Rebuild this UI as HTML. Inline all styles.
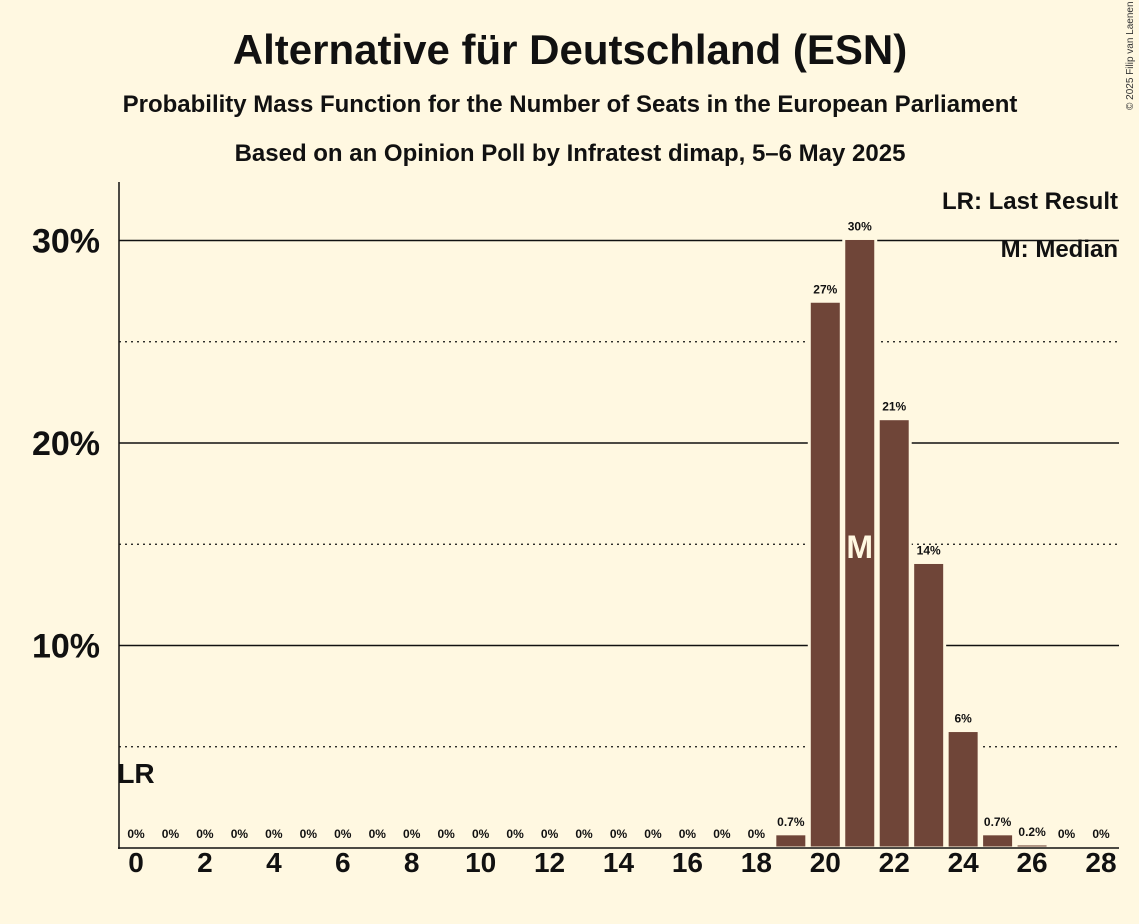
<!DOCTYPE html>
<html><head><meta charset="utf-8"><style>
body{margin:0;background:#FFF8E1;}
svg{display:block;font-family:"Liberation Sans",sans-serif;font-weight:bold;}
</style></head><body>
<svg id="chart" width="1139" height="924" viewBox="0 0 1139 924">
<rect width="1139" height="924" fill="#FFF8E1"/>
<text x="570" y="64" text-anchor="middle" font-size="42" fill="#111">Alternative für Deutschland (ESN)</text>
<text x="570" y="112" text-anchor="middle" font-size="24" fill="#111">Probability Mass Function for the Number of Seats in the European Parliament</text>
<text x="570" y="161" text-anchor="middle" font-size="24" fill="#111">Based on an Opinion Poll by Infratest dimap, 5–6 May 2025</text>
<text x="1133" y="110" font-size="10" font-weight="normal" fill="#333" transform="rotate(-90 1133 110)">© 2025 Filip van Laenen</text>
<g id="grid"></g>
<g id="bars"></g>
<g id="labels"></g>
<line x1="119" y1="182" x2="119" y2="849" stroke="#111" stroke-width="1.5"/>
<line x1="118" y1="848" x2="1119" y2="848" stroke="#111" stroke-width="1.5"/>
<text x="1118" y="209" text-anchor="end" font-size="24" fill="#111">LR: Last Result</text>
<text x="1118" y="257" text-anchor="end" font-size="24" fill="#111">M: Median</text>
</svg>
<script>
const seats=[0,1,2,3,4,5,6,7,8,9,10,11,12,13,14,15,16,17,18,19,20,21,22,23,24,25,26,27,28];
const probs=[0,0,0,0,0,0,0,0,0,0,0,0,0,0,0,0,0,0,0,0.7,27,30.1,21.2,14.1,5.8,0.7,0.2,0,0];
const valueLabels=["0%","0%","0%","0%","0%","0%","0%","0%","0%","0%","0%","0%","0%","0%","0%","0%","0%","0%","0%","0.7%","27%","30%","21%","14%","6%","0.7%","0.2%","0%","0%"];
const yTicks=[10,20,30];
const yMinor=[5,15,25];
const yTickLabels=["10%","20%","30%"];
const xTickSeats=[0,2,4,6,8,10,12,14,16,18,20,22,24,26,28];
const lastResult=0, median=21;
const NS="http://www.w3.org/2000/svg";
const x=s=>136+s*(1101-136)/28;
const y=v=>848-v*20.25;
function mk(tag,attrs,parent){const e=document.createElementNS(NS,tag);for(const k in attrs)e.setAttribute(k,attrs[k]);parent.appendChild(e);return e;}
const grid=document.getElementById('grid'),bars=document.getElementById('bars'),labels=document.getElementById('labels');
yTicks.forEach((t,i)=>{
 const l=mk('line',{x1:119,x2:1119,y1:y(t),y2:y(t),stroke:'#111','stroke-width':1.5},grid);
 
 
 const tx=mk('text',{x:100,y:y(t)+12,'text-anchor':'end','font-size':34,fill:'#111'},grid);
 tx.textContent=yTickLabels[i];
 
 
});
yMinor.forEach(t=>{
 const l=mk('line',{x1:119,x2:1119,y1:y(t),y2:y(t),stroke:'#111','stroke-width':1.2,'stroke-dasharray':'2,4'},grid);
 
 
});
seats.forEach((s,i)=>{
 const v=probs[i];
 if(v>0){
  const r=mk('rect',{x:x(s)-16,y:y(v),width:32,height:848-y(v),fill:'#6F4538',stroke:'#FFF8E1','stroke-width':3},bars);
  
  
 }
 const t=mk('text',{x:x(s),y:(v>0?y(v)-8:838),'text-anchor':'middle','font-size':12,fill:'#111'},labels);
 t.textContent=valueLabels[i];
 
 
});
xTickSeats.forEach(s=>{
 const t=mk('text',{x:x(s),y:872,'text-anchor':'middle','font-size':28,fill:'#111'},labels);
 t.textContent=s;
 
 
});
const lr=mk('text',{x:x(lastResult),y:783,'text-anchor':'middle','font-size':28,fill:'#111'},labels);
lr.textContent='LR';


const m=mk('text',{x:x(median),y:558,'text-anchor':'middle','font-size':32,fill:'#FFF8E1'},labels);
m.textContent='M';


</script>
</body></html>
